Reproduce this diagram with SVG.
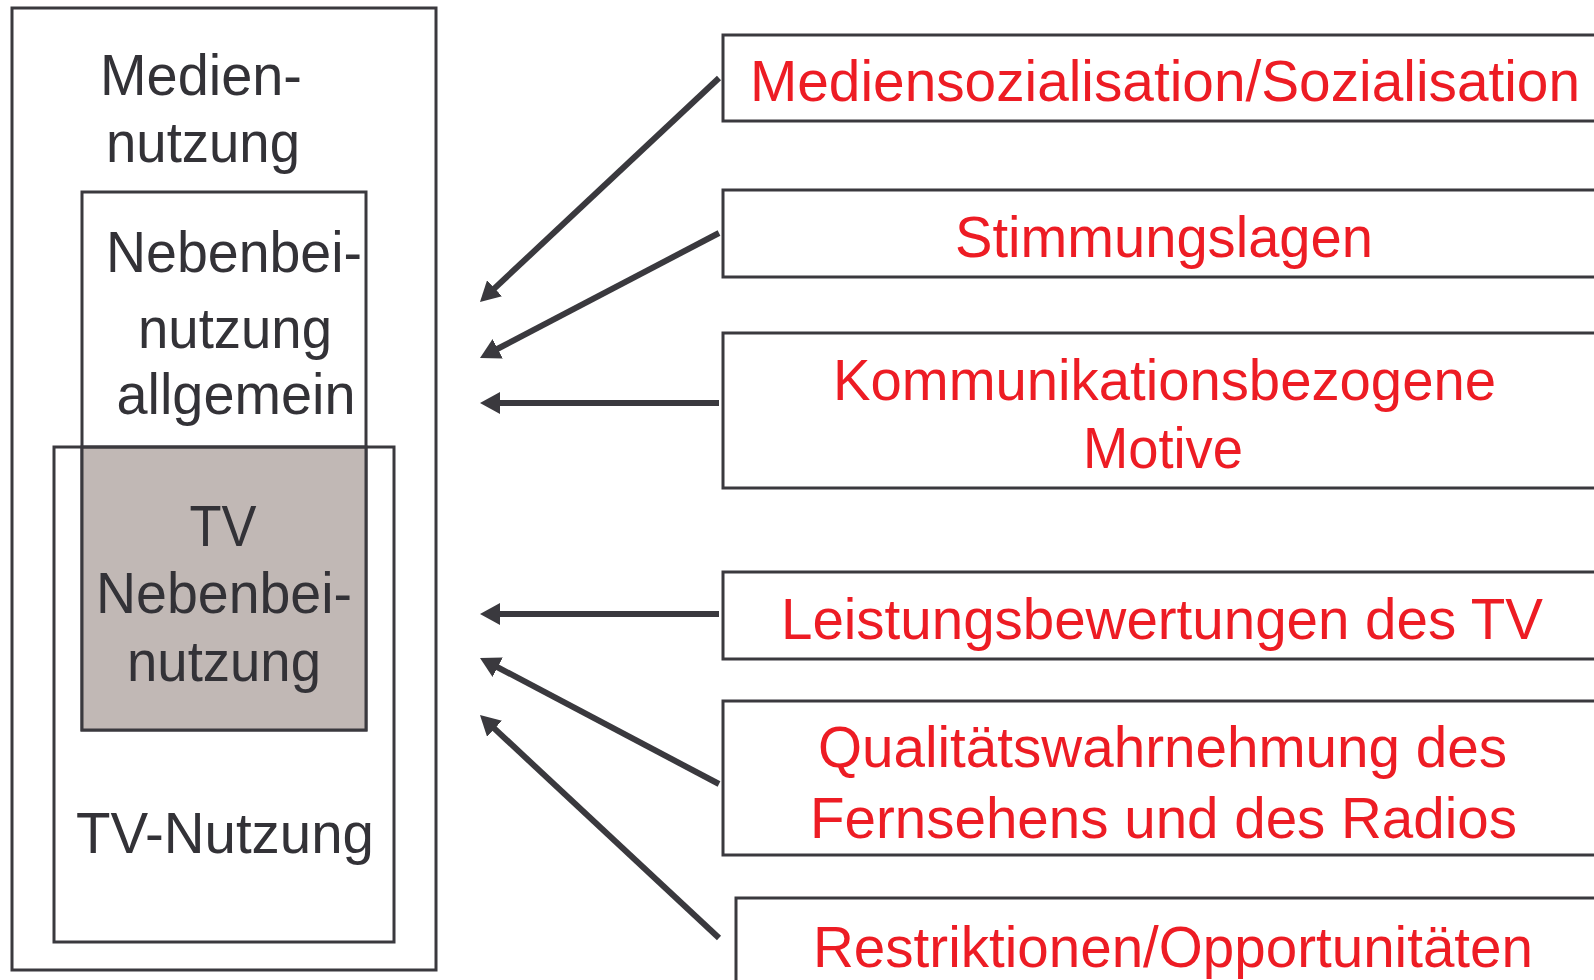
<svg xmlns="http://www.w3.org/2000/svg" width="1594" height="980" viewBox="0 0 1594 980">
<style>
.box{fill:none;stroke:#3a393e;stroke-width:3}
.wbox{fill:#ffffff;stroke:#3a393e;stroke-width:3}
.gbox{fill:#c1b8b5;stroke:#3a393e;stroke-width:3}
.dk{font-family:"Liberation Sans",Arial,sans-serif;font-size:57px;fill:#333237;text-anchor:middle}
.rd{font-family:"Liberation Sans",Arial,sans-serif;font-size:57px;fill:#ed1c24;text-anchor:middle}
.arr{stroke:#3a393e;stroke-width:6;fill:none;marker-end:url(#ah)}
</style>
<defs>
<marker id="ah" markerUnits="userSpaceOnUse" markerWidth="20" markerHeight="22" refX="6" refY="11" orient="auto" viewBox="0 0 20 22">
<path d="M0,0 L20,11 L0,22 z" fill="#3a393e"/>
</marker>
</defs>
<rect width="1594" height="980" fill="#ffffff"/>
<g id="medien-nutzung">
<rect class="box" x="12" y="8" width="424" height="962"/>
<text class="dk" x="201" y="95" textLength="202" lengthAdjust="spacingAndGlyphs">Medien-</text>
<text class="dk" x="203" y="162" textLength="194" lengthAdjust="spacingAndGlyphs">nutzung</text>
</g>
<g id="nebenbei-allgemein">
<rect class="wbox" x="82" y="192" width="284" height="538"/>
<text class="dk" x="234" y="272" textLength="256" lengthAdjust="spacingAndGlyphs">Nebenbei-</text>
<text class="dk" x="235" y="348" textLength="194" lengthAdjust="spacingAndGlyphs">nutzung</text>
<text class="dk" x="236" y="414" textLength="239" lengthAdjust="spacingAndGlyphs">allgemein</text>
</g>
<g id="tv-nebenbei">
<rect class="gbox" x="82" y="447" width="284" height="283"/>
<text class="dk" x="223" y="546" textLength="67" lengthAdjust="spacingAndGlyphs">TV</text>
<text class="dk" x="224" y="613" textLength="256" lengthAdjust="spacingAndGlyphs">Nebenbei-</text>
<text class="dk" x="224" y="681" textLength="194" lengthAdjust="spacingAndGlyphs">nutzung</text>
</g>
<g id="tv-nutzung">
<rect class="box" x="54" y="447" width="340" height="495"/>
<text class="dk" x="225" y="853" textLength="298" lengthAdjust="spacingAndGlyphs">TV-Nutzung</text>
</g>
<g id="f1">
<rect class="box" x="723" y="35" width="890" height="86"/>
<text class="rd" x="1165" y="101" textLength="830" lengthAdjust="spacingAndGlyphs">Mediensozialisation/Sozialisation</text>
</g>
<g id="f2">
<rect class="box" x="723" y="190" width="890" height="87"/>
<text class="rd" x="1164" y="257" textLength="418" lengthAdjust="spacingAndGlyphs">Stimmungslagen</text>
</g>
<g id="f3">
<rect class="box" x="723" y="333" width="890" height="155"/>
<text class="rd" x="1164.5" y="400" textLength="663" lengthAdjust="spacingAndGlyphs">Kommunikationsbezogene</text>
<text class="rd" x="1163" y="468" textLength="160" lengthAdjust="spacingAndGlyphs">Motive</text>
</g>
<g id="f4">
<rect class="box" x="723" y="572" width="890" height="87"/>
<text class="rd" x="1162" y="639" textLength="762" lengthAdjust="spacingAndGlyphs">Leistungsbewertungen des TV</text>
</g>
<g id="f5">
<rect class="box" x="723" y="701" width="890" height="154"/>
<text class="rd" x="1162.5" y="767" textLength="689" lengthAdjust="spacingAndGlyphs">Qualitätswahrnehmung des</text>
<text class="rd" x="1163.5" y="838" textLength="707" lengthAdjust="spacingAndGlyphs">Fernsehens und des Radios</text>
</g>
<g id="f6">
<rect class="box" x="736" y="898" width="890" height="120"/>
<text class="rd" x="1173" y="967" textLength="720" lengthAdjust="spacingAndGlyphs">Restriktionen/Opportunitäten</text>
</g>
<g id="connectors">
<line class="arr" x1="719" y1="78" x2="490.2" y2="292.4"/>
<line class="arr" x1="719" y1="233" x2="492.4" y2="351.5"/>
<line class="arr" x1="719" y1="403" x2="494" y2="403"/>
<line class="arr" x1="719" y1="614" x2="494" y2="614"/>
<line class="arr" x1="719" y1="784" x2="492.4" y2="664.5"/>
<line class="arr" x1="719" y1="938" x2="490.2" y2="724.6"/>
</g>
</svg>
